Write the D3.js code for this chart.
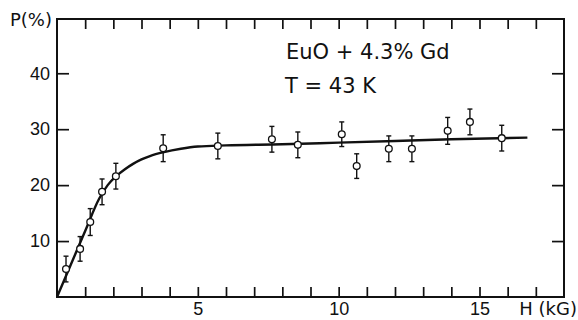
<!DOCTYPE html>
<html>
<head>
<meta charset="utf-8">
<script src="https://cdn.jsdelivr.net/npm/d3@7"></script>
<style>
  body { margin: 0; background: #fff; }
  svg { display: block; font-family: "DejaVu Sans", sans-serif; }
  .axis text { font-size: 18px; fill: #111; }
  .axis line { stroke: #111; stroke-width: 1.7; }
</style>
</head>
<body>
<svg width="578" height="320"></svg>
<script>
// measured points
const fieldKG = [0.32, 0.82, 1.18, 1.6, 2.09, 3.77, 5.71, 7.63, 8.55, 10.11, 10.64, 11.78, 12.6, 13.87, 14.66, 15.79];
const polPct  = [5.0, 8.6, 13.4, 18.8, 21.6, 26.6, 27.0, 28.2, 27.2, 29.1, 23.4, 26.5, 26.5, 29.7, 31.3, 28.4];
const errPct  = [2.3, 2.2, 2.4, 2.3, 2.3, 2.4, 2.3, 2.3, 2.3, 2.2, 2.2, 2.3, 2.3, 2.4, 2.3, 2.3];

// fitted curve
const curveH = [0, 0.5, 1.0, 1.5, 1.8, 2.1, 2.4, 2.7, 3.0, 3.3, 3.8, 4.4, 5.0, 6, 8, 10, 12, 14, 16.7];
const curveP = [0, 5.9, 11.8, 17.6, 20.0, 21.6, 22.8, 23.8, 24.6, 25.2, 25.9, 26.5, 26.9, 27.1, 27.3, 27.6, 27.9, 28.2, 28.5];

const yTicks = [10, 20, 30, 40];
const xLabels = [5, 10, 15];

const svg = d3.select('svg');

const x = d3.scaleLinear().domain([0, 18]).range([57, 564]);
const y = d3.scaleLinear().domain([0, 49.7]).range([297, 19]);

const xTickVals = d3.range(1, 18);

// bottom axis, ticks point inward
svg.append('g')
  .attr('class', 'axis')
  .attr('transform', 'translate(0,297)')
  .call(d3.axisBottom(x).tickValues(xTickVals).tickSize(-10).tickPadding(5)
    .tickFormat(d => xLabels.includes(d) ? d : ''))
  .call(g => g.select('.domain').remove());

// top axis, ticks only
svg.append('g')
  .attr('class', 'axis')
  .attr('transform', 'translate(0,19)')
  .call(d3.axisTop(x).tickValues(xTickVals).tickSize(-10).tickFormat(''))
  .call(g => g.select('.domain').remove());

svg.append('g')
  .attr('class', 'axis')
  .attr('transform', 'translate(57,0)')
  .call(d3.axisLeft(y).tickValues(yTicks).tickSize(-12).tickPadding(7))
  .call(g => g.select('.domain').remove());

svg.append('g')
  .attr('class', 'axis')
  .attr('transform', 'translate(564,0)')
  .call(d3.axisRight(y).tickValues(yTicks).tickSize(-12).tickFormat(''))
  .call(g => g.select('.domain').remove());

// frame
svg.append('rect')
  .attr('x', x(0)).attr('y', y(49.7))
  .attr('width', x(18) - x(0)).attr('height', y(0) - y(49.7))
  .attr('fill', 'none').attr('stroke', '#111').attr('stroke-width', 2);

// axis titles
svg.append('text').attr('x', 52).attr('y', 26)
  .attr('text-anchor', 'end').attr('font-size', 18).attr('fill', '#111')
  .text('P(%)');
svg.append('text').attr('x', 577).attr('y', 315)
  .attr('text-anchor', 'end').attr('font-size', 18).attr('fill', '#111')
  .text('H (kG)');

// annotation
svg.append('text').attr('x', 286).attr('y', 59)
  .attr('font-size', 21).attr('fill', '#111').text('EuO + 4.3% Gd');
svg.append('text').attr('x', 285).attr('y', 93)
  .attr('font-size', 21).attr('fill', '#111').text('T = 43 K');

// fit curve
const line = d3.line()
  .x(d => x(d[0]))
  .y(d => y(d[1]))
  .curve(d3.curveMonotoneX);

svg.append('path')
  .datum(curveH.map((h, i) => [h, curveP[i]]))
  .attr('d', line)
  .attr('fill', 'none')
  .attr('stroke', '#111')
  .attr('stroke-width', 2.4);

// error bars + points
const pts = fieldKG.map((h, i) => ({ h: h, p: polPct[i], e: errPct[i] }));

const eb = svg.append('g').attr('stroke', '#111').attr('stroke-width', 1.4);
eb.selectAll('line.v').data(pts).enter().append('line')
  .attr('x1', d => x(d.h)).attr('x2', d => x(d.h))
  .attr('y1', d => y(d.p - d.e)).attr('y2', d => y(d.p + d.e));
eb.selectAll('line.top').data(pts).enter().append('line')
  .attr('x1', d => x(d.h) - 2.5).attr('x2', d => x(d.h) + 2.5)
  .attr('y1', d => y(d.p + d.e)).attr('y2', d => y(d.p + d.e));
eb.selectAll('line.bot').data(pts).enter().append('line')
  .attr('x1', d => x(d.h) - 2.5).attr('x2', d => x(d.h) + 2.5)
  .attr('y1', d => y(d.p - d.e)).attr('y2', d => y(d.p - d.e));

svg.append('g').selectAll('circle')
  .data(pts)
  .enter()
  .append('circle')
  .attr('cx', d => x(d.h))
  .attr('cy', d => y(d.p))
  .attr('r', 3.4)
  .attr('fill', '#fff')
  .attr('stroke', '#111')
  .attr('stroke-width', 1.3);
</script>
</body>
</html>
